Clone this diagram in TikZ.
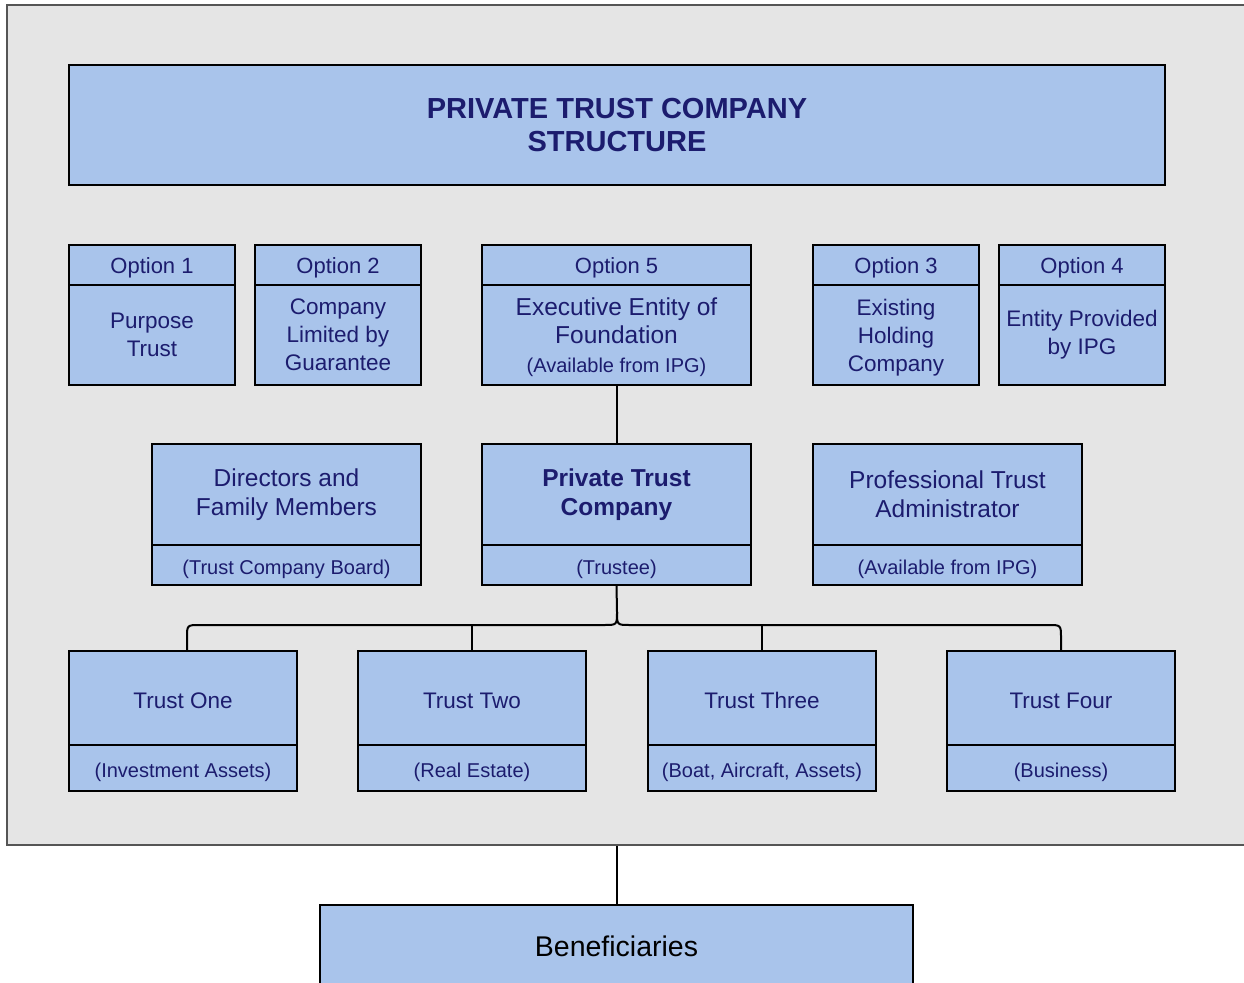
\documentclass[tikz,border=0pt]{standalone}
\usepackage{fontspec}
\setmainfont{Liberation Sans}
\definecolor{boxblue}{HTML}{A9C4EB}
\definecolor{navy}{RGB}{28,28,110}
\definecolor{bggray}{HTML}{E5E5E5}
\definecolor{framegray}{HTML}{555555}
\begin{document}
\begin{tikzpicture}[x=1pt,y=-1pt,
  cell/.style={draw=black, line width=2pt, fill=boxblue, text=navy, align=center, inner sep=0pt, outer sep=0pt},
  conn/.style={draw=black, line width=2pt},
  ftitle/.style={font=\fontsize{29}{33}\selectfont\bfseries},
  fhead/.style={font=\fontsize{22}{26}\selectfont, text height=18pt, text depth=0.4pt},
  fbody/.style={font=\fontsize{22.5}{28}\selectfont},
  ftrust/.style={font=\fontsize{22.5}{28}\selectfont, text height=20.6pt, text depth=0pt},
  fmid/.style={font=\fontsize{24.5}{29}\selectfont},
  fsub/.style={font=\fontsize{20}{24}\selectfont, text height=20pt, text depth=0.6pt},
  optw/.style={minimum width=166pt},
  wide/.style={minimum width=269pt},
  trw/.style={minimum width=228pt},
]
\useasboundingbox (0,0) rectangle (1244,982);
\clip (0,0) rectangle (1244,982);
\fill[white] (0,0) rectangle (1244,982);

% outer frame
\node[draw=framegray, line width=2pt, fill=bggray, minimum width=1250pt, minimum height=840pt, inner sep=0pt] (outer) at (632,425) {};

% title
\node[cell, ftitle, minimum width=1096pt, minimum height=120pt] (title) at (617,125) {PRIVATE TRUST COMPANY\\STRUCTURE};

% options row
\node[cell, optw, fhead, minimum height=40pt] (o1h) at (152,265) {Option 1};
\node[cell, optw, fbody, minimum height=100pt] (o1b) at (152,335) {Purpose\\Trust};
\node[cell, optw, fhead, minimum height=40pt] (o2h) at (338,265) {Option 2};
\node[cell, optw, fbody, minimum height=100pt] (o2b) at (338,335) {Company\\Limited by\\Guarantee};
\node[cell, wide, fhead, minimum height=40pt] (o5h) at (616.5,265) {Option 5};
\node[cell, wide, font=\fontsize{24.5}{28}\selectfont, text depth=0pt, minimum height=100pt] (o5b) at (616.5,335) {Executive Entity of\\Foundation\\[1pt]{\fontsize{20}{24}\selectfont(Available from IPG)}};
\node[cell, optw, fhead, minimum height=40pt] (o3h) at (896,265) {Option 3};
\node[cell, optw, fbody, text depth=0pt, minimum height=100pt] (o3b) at (896,335) {Existing\\Holding\\Company};
\node[cell, optw, fhead, minimum height=40pt] (o4h) at (1082,265) {Option 4};
\node[cell, optw, fbody, minimum height=100pt] (o4b) at (1082,335) {Entity Provided\\by IPG};

% middle row
\node[cell, wide, fmid, minimum height=101pt] (dirt) at (286.5,494.5) {Directors and\\Family Members};
\node[cell, wide, fsub, minimum height=40pt] (dirb) at (286.5,565) {(Trust Company Board)};
\node[cell, wide, fmid, font=\fontsize{24.5}{29}\selectfont\bfseries, minimum height=101pt] (ptct) at (616.5,494.5) {Private Trust\\Company};
\node[cell, wide, fsub, minimum height=40pt] (ptcb) at (616.5,565) {(Trustee)};
\node[cell, wide, fmid, minimum height=101pt] (prot) at (947.5,494.5) {Professional Trust\\Administrator};
\node[cell, wide, fsub, minimum height=40pt] (prob) at (947.5,565) {(Available from IPG)};

% trusts row
\node[cell, trw, ftrust, minimum height=94pt] (t1) at (183,698) {Trust One};
\node[cell, trw, fsub, minimum height=46pt] (t1b) at (183,768) {(Investment Assets)};
\node[cell, trw, ftrust, minimum height=94pt] (t2) at (472,698) {Trust Two};
\node[cell, trw, fsub, minimum height=46pt] (t2b) at (472,768) {(Real Estate)};
\node[cell, trw, ftrust, minimum height=94pt] (t3) at (762,698) {Trust Three};
\node[cell, trw, fsub, minimum height=46pt] (t3b) at (762,768) {(Boat, Aircraft, Assets)};
\node[cell, trw, ftrust, minimum height=94pt] (t4) at (1061,698) {Trust Four};
\node[cell, trw, fsub, minimum height=46pt] (t4b) at (1061,768) {(Business)};

% beneficiaries
\node[cell, text=black, font=\fontsize{28.5}{33}\selectfont, minimum width=593pt, minimum height=82pt] (ben) at (616.5,946) {Beneficiaries};

% connectors
\draw[conn] (o5b.south) -- (ptct.north);
\coordinate (bar) at (617,625);
\draw[conn] ([xshift=4pt]t1.north) -- (187,638) .. controls (187,625) .. (200,625) -- (604,625) .. controls (617,625) .. (617,612) -- (ptcb.south);
\draw[conn] (t4.north) -- (1061,638) .. controls (1061,625) .. (1048,625) -- (630,625) .. controls (617,625) .. (617,612);
\draw[conn] (t2.north) -- (t2.north |- bar);
\draw[conn] (t3.north) -- (t3.north |- bar);
\draw[conn] (outer.south -| ben.north) -- (ben.north);
\end{tikzpicture}
\end{document}
